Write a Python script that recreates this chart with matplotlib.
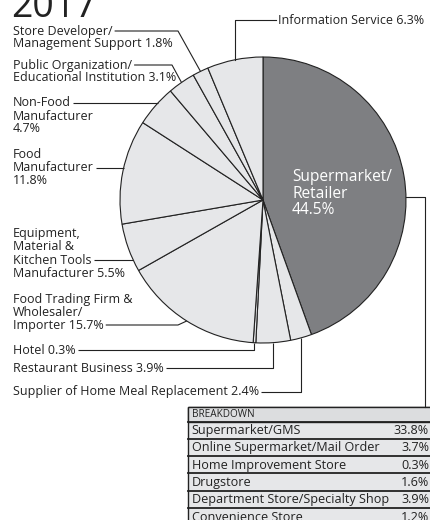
import numpy as np
import matplotlib.pyplot as plt
from matplotlib.patches import Rectangle

W, H = 430, 520

# pie shares, clockwise from 12 o'clock
categories = [
    "Supermarket/\nRetailer\n",
    "Supplier of Home Meal Replacement",
    "Restaurant Business",
    "Hotel",
    "Food Trading Firm &\nWholesaler/\nImporter",
    "Equipment,\nMaterial &\nKitchen Tools\nManufacturer",
    "Food\nManufacturer\n",
    "Non-Food\nManufacturer\n",
    "Public Organization/\nEducational Institution",
    "Store Developer/\nManagement Support",
    "Information Service",
]
shares = [44.5, 2.4, 3.9, 0.3, 15.7, 5.5, 11.8, 4.7, 3.1, 1.8, 6.3]

breakdown_names = ["Supermarket/GMS", "Online Supermarket/Mail Order", "Home Improvement Store",
                   "Drugstore", "Department Store/Specialty Shop", "Convenience Store"]
breakdown_values = [33.8, 3.7, 0.3, 1.6, 3.9, 1.2]

year = "2017"

plt.rcParams['font.family'] = ['Open Sans', 'DejaVu Sans']

DARK = "#7e7f82"
LIGHT = "#e6e7e9"
LINE = "#222222"

fig = plt.figure(figsize=(W / 100, H / 100), dpi=100)
ax = fig.add_axes([0, 0, 1, 1])


def Y(y):
    # pixel row (from top) -> data y
    return H - y


cx, cy, r = 263, 200, 143
colors = [DARK] + [LIGHT] * (len(shares) - 1)
wedges, _ = ax.pie(shares, colors=colors, startangle=90, counterclock=False,
                   center=(cx, Y(cy)), radius=r, frame=True,
                   wedgeprops=dict(edgecolor=LINE, linewidth=0.8))
ax.set_xlim(0, W)
ax.set_ylim(0, H)
ax.set_aspect("equal")
ax.axis("off")


def label_text(i):
    name = categories[i]
    sep = "" if name.endswith("\n") else " "
    return f"{name}{sep}{shares[i]}%"


def edge_point(w):
    a = np.radians((w.theta1 + w.theta2) / 2)
    return cx + r * np.cos(a), Y(cy) + r * np.sin(a)


# label layout: first line row, line spacing, line the leader starts from, leader style
label_layout = {
    1: (392, 13, 0, "drop"),
    2: (368, 13, 0, "drop"),
    3: (350, 13, 0, "drop"),
    4: (299, 13, 2, 178),
    5: (233, 13.6, 2, "flat"),
    6: (154, 13.5, 1, "flat"),
    7: (103, 13, 0, "flat"),
    8: (65, 12.5, 0, 172),
    9: (31, 12, 0, 178),
}
fs = 9.0

texts = {}
for i, (y0, dy, k, style) in label_layout.items():
    lines = label_text(i).split("\n")
    objs = []
    for j, ln in enumerate(lines):
        objs.append(ax.text(13, Y(y0 + j * dy), ln, fontsize=fs, va="center", ha="left", color="#222"))
    texts[i] = objs

info = ax.text(278, Y(20), label_text(10), fontsize=fs, va="center", ha="left", color="#222")

# title, partly cut at top edge
ax.text(11, Y(17), year, fontsize=27, va="baseline", ha="left", color="#222")

# label inside the dark wedge
for j, ln in enumerate(label_text(0).split("\n")):
    ax.text(292, Y(177 + j * 16.5), ln, fontsize=11.2, va="center", ha="left", color="white")

fig.canvas.draw()
lw = 0.8
for i, (y0, dy, k, style) in label_layout.items():
    t = texts[i][k]
    bb = t.get_window_extent()
    x0 = bb.x1 + 2
    ly = Y(y0 + k * dy)
    ex, ey = edge_point(wedges[i])
    if style == "drop":
        xs, ys = [x0, ex, ex], [ly, ly, ey]
    elif style == "flat":
        fx = cx - np.sqrt(r ** 2 - (ly - Y(cy)) ** 2)
        xs, ys = [x0, fx], [ly, ly]
    else:
        xs, ys = [x0, style, ex], [ly, ly, ey]
    ax.plot(xs, ys, color=LINE, lw=lw, solid_capstyle="butt")

bb = info.get_window_extent()
ex, ey = edge_point(wedges[10])
ax.plot([bb.x0 - 2, ex, ex], [Y(20), Y(20), ey], color=LINE, lw=lw)

# breakdown table
tx0, ttop, head_h, row_h = 188, 407, 14.5, 17.3
tx1 = W + 5
tab_bottom = ttop + head_h + row_h * len(breakdown_names)
# leader from the dark wedge to the table
ax.plot([cx + r, 425, 425], [Y(cy - 3), Y(cy - 3), Y(ttop)], color=LINE, lw=lw)

ax.add_patch(Rectangle((tx0, Y(tab_bottom)), tx1 - tx0, tab_bottom - ttop,
                       facecolor=LIGHT, edgecolor=LINE, lw=1.0))
ax.add_patch(Rectangle((tx0, Y(ttop + head_h)), tx1 - tx0, head_h,
                       facecolor="#dcdddf", edgecolor=LINE, lw=1.0))
ax.text(tx0 + 4, Y(ttop + head_h / 2), "BREAKDOWN", fontsize=7.2, va="center", ha="left", color="#222")
for j, (nm, v) in enumerate(zip(breakdown_names, breakdown_values)):
    top = ttop + head_h + j * row_h
    ax.plot([tx0, tx1], [Y(top), Y(top)], color=LINE, lw=1.3)
    yc = Y(top + row_h / 2 + 0.5)
    ax.text(tx0 + 3.5, yc, nm, fontsize=9.1, va="center", ha="left", color="#222")
    ax.text(W - 1, yc, f"{v}%", fontsize=9.1, va="center", ha="right", color="#222")

fig.savefig("out.png", dpi=100, facecolor="white")
